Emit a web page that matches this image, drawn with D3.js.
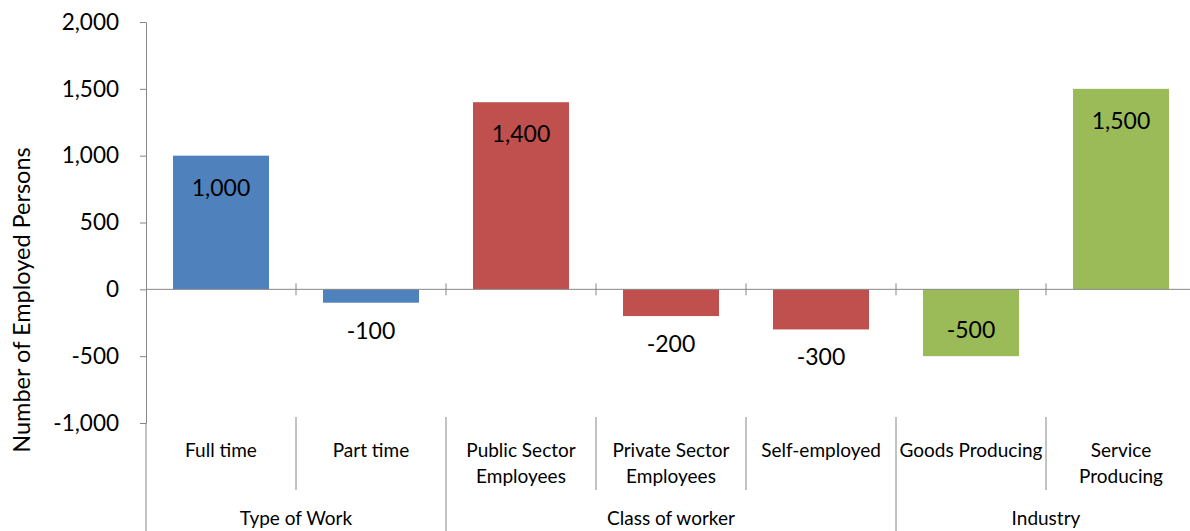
<!DOCTYPE html>
<html>
<head>
<meta charset="utf-8">
<script src="https://cdn.jsdelivr.net/npm/d3@7"></script>
<style>
  body { margin: 0; background: #fff; }
  svg text { font-family: Lato, "Open Sans", sans-serif; fill: #000; }
</style>
</head>
<body>
<script>
// data
const categories = ['Full time', 'Part time', 'Public Sector Employees', 'Private Sector Employees',
    'Self-employed', 'Goods Producing', 'Service Producing'];
const values = [1000, -100, 1400, -200, -300, -500, 1500];
const categoryGroup = ['Type of Work', 'Type of Work', 'Class of worker', 'Class of worker',
    'Class of worker', 'Industry', 'Industry'];
const groups = ['Type of Work', 'Class of worker', 'Industry'];
const groupColors = ['#4F81BD', '#C0504D', '#9BBB59'];
const yTicks = [-1000, -500, 0, 500, 1000, 1500, 2000];

const svgWidth = 1190;
const svgHeight = 531;
const axisColor = '#868686';

const svg = d3.select('body').append('svg')
    .attr('width', svgWidth)
    .attr('height', svgHeight);

const left = 146;
const right = 1196;

let x = d3.scaleBand().domain(categories).range([left, right]).padding(0);
let y = d3.scaleLinear().domain([-1000, 2000]).range([423, 22]);
let color = d3.scaleOrdinal().domain(groups).range(groupColors);
let fmt = (v) => d3.format(',')(v).replace('\u2212', '-');
let barW = x.bandwidth() * 0.64;

// bars
svg.selectAll('rect.bar')
    .data(categories)
    .enter().append('rect')
    .attr('class', 'bar')
    .attr('x', (d) => x(d) + (x.bandwidth() - barW) / 2)
    .attr('y', (d, i) => y(Math.max(0, values[i])))
    .attr('width', barW)
    .attr('height', (d, i) => Math.abs(y(values[i]) - y(0)))
    .attr('fill', (d, i) => color(categoryGroup[i]));

// y axis
let yAxis = svg.append('g')
    .attr('transform', 'translate(' + left + ',0)')
    .call(d3.axisLeft(y).tickValues(yTicks).tickFormat(fmt).tickSize(6).tickSizeOuter(0).tickPadding(21));
yAxis.select('.domain').attr('stroke', axisColor);
yAxis.selectAll('.tick line').attr('stroke', axisColor);
yAxis.selectAll('.tick text').style('font-size', '22.5px').attr('fill', '#000');

// axis line continues through the category label area
svg.append('line')
    .attr('x1', left).attr('x2', left)
    .attr('y1', y(-1000)).attr('y2', svgHeight)
    .attr('stroke', axisColor);

// zero line with category ticks
svg.append('line')
    .attr('x1', left).attr('x2', right)
    .attr('y1', y(0)).attr('y2', y(0))
    .attr('stroke', axisColor);

svg.selectAll('line.ctick')
    .data(categories.slice(1))
    .enter().append('line')
    .attr('class', 'ctick')
    .attr('x1', (d) => x(d)).attr('x2', (d) => x(d))
    .attr('y1', y(0) - 6).attr('y2', y(0) + 6)
    .attr('stroke', axisColor);

// value labels
svg.selectAll('text.val')
    .data(categories)
    .enter().append('text')
    .attr('class', 'val')
    .attr('x', (d) => x(d) + x.bandwidth() / 2)
    .attr('y', (d, i) => {
        let v = values[i];
        if (v > 0) return y(v) + 40;
        if (y(v) - y(0) > 50) return y(v) - 18;
        return y(v) + 36;
    })
    .attr('text-anchor', 'middle')
    .style('font-size', '23px')
    .text((d, i) => fmt(values[i]));

// category labels (wrapped)
let labelTop = 457;
svg.selectAll('text.cat')
    .data(categories)
    .enter().append('text')
    .attr('class', 'cat')
    .attr('text-anchor', 'middle')
    .style('font-size', '19px')
    .each(function(d) {
        let words = d.split(' ');
        let lines = (d.length > 15 && words.length > 2) ? [words.slice(0, 2).join(' '), words.slice(2).join(' ')]
            : (d === 'Service Producing') ? ['Service', 'Producing'] : [d];
        d3.select(this).selectAll('tspan')
            .data(lines)
            .enter().append('tspan')
            .attr('x', x(d) + x.bandwidth() / 2)
            .attr('y', (l, j) => labelTop + j * 26)
            .text((l) => l);
    });

// dividers between categories in the label area
svg.selectAll('line.cdiv')
    .data(categories.slice(1).filter((d, i) => categoryGroup[i + 1] === categoryGroup[i]))
    .enter().append('line')
    .attr('class', 'cdiv')
    .attr('x1', (d) => x(d)).attr('x2', (d) => x(d))
    .attr('y1', 417).attr('y2', 490)
    .attr('stroke', axisColor);

// group labels and dividers
let groupSpan = groups.map((g) => {
    let cats = categories.filter((c, i) => categoryGroup[i] === g);
    return { name: g, x0: x(cats[0]), x1: x(cats[cats.length - 1]) + x.bandwidth() };
});

svg.selectAll('line.gdiv')
    .data(groupSpan.slice(1))
    .enter().append('line')
    .attr('class', 'gdiv')
    .attr('x1', (d) => d.x0).attr('x2', (d) => d.x0)
    .attr('y1', 417).attr('y2', svgHeight)
    .attr('stroke', axisColor);

svg.selectAll('text.grp')
    .data(groupSpan)
    .enter().append('text')
    .attr('class', 'grp')
    .attr('x', (d) => (d.x0 + d.x1) / 2)
    .attr('y', 525)
    .attr('text-anchor', 'middle')
    .style('font-size', '19px')
    .text((d) => d.name);

// y axis title
svg.append('text')
    .attr('transform', 'translate(30,' + 300 + ') rotate(-90)')
    .attr('text-anchor', 'middle')
    .style('font-size', '23.5px')
    .text('Number of Employed Persons');
</script>
</body>
</html>
